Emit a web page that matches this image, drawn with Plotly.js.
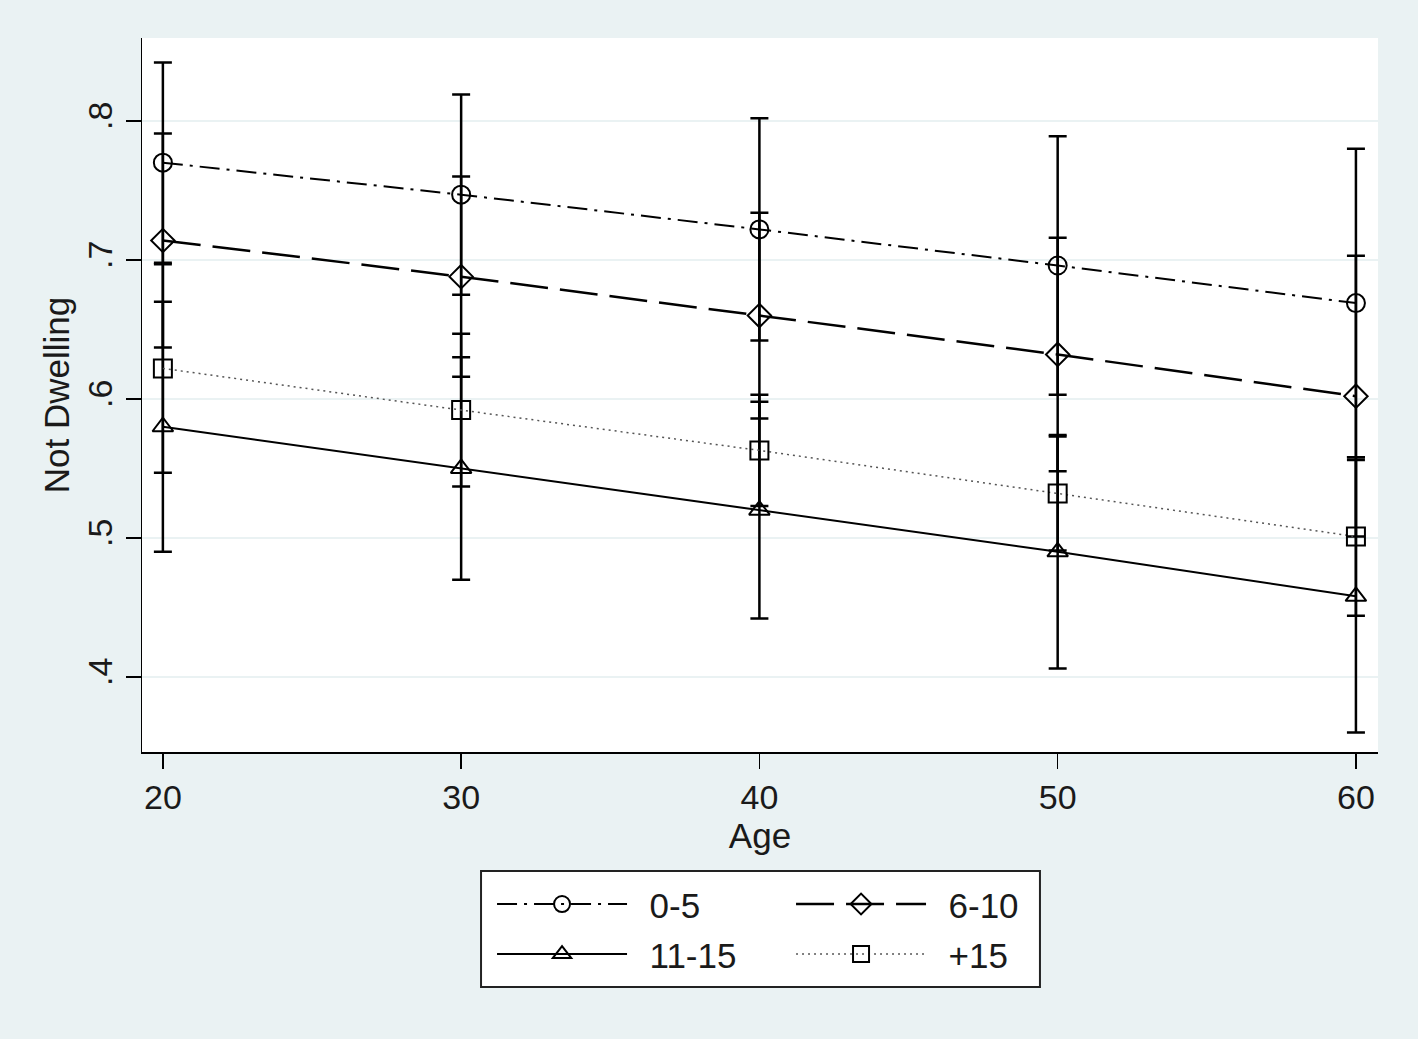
<!DOCTYPE html>
<html>
<head>
<meta charset="utf-8">
<script src="https://cdn.plot.ly/plotly-3.0.1.min.js"></script>
<style>
  html, body { margin: 0; padding: 0; background: #eaf2f3; }
  #chart { width: 1418px; height: 1039px; }
</style>
</head>
<body>
<div id="chart"></div>
<script>
// ages on the x axis
const ages = [20, 30, 40, 50, 60];

// predicted "Not Dwelling" by group
const mean_0_5   = [0.770, 0.747, 0.722, 0.696, 0.669];
const mean_6_10  = [0.714, 0.688, 0.660, 0.632, 0.602];
const mean_11_15 = [0.580, 0.550, 0.520, 0.490, 0.458];
const mean_15p   = [0.622, 0.592, 0.563, 0.532, 0.501];

// half-width of the confidence intervals
const ci_0_5   = [0.072, 0.072, 0.080, 0.093, 0.111];
const ci_6_10  = [0.077, 0.072, 0.074, 0.084, 0.101];
const ci_11_15 = [0.090, 0.080, 0.078, 0.084, 0.098];
const ci_15p   = [0.075, 0.055, 0.040, 0.041, 0.057];

const groupNames = ['0-5', '6-10', '11-15', '+15'];

const yTicks = [0.4, 0.5, 0.6, 0.7, 0.8];
const yTickText = ['.4', '.5', '.6', '.7', '.8'];
const xTicks = [20, 30, 40, 50, 60];

const FONT = 'Liberation Sans, Arial, sans-serif';

// 공통 trace 생성
function makeTrace(name, y, ci, symbol, dash, width, color, legendId) {
    return {
        x: ages,
        y: y,
        name: '\u2002' + name, // 기호와 글자 사이 간격
        legend: legendId,
        type: 'scatter',
        mode: 'lines+markers',
        line: { color: color, width: width, dash: dash },
        marker: {
            symbol: symbol,
            size: 18,
            color: 'black',
            line: { color: 'black', width: 2 }
        },
        error_y: {
            type: 'data',
            array: ci,
            symmetric: true,
            color: 'black',
            thickness: 2.5,
            width: 9
        }
    };
}

const trace1 = makeTrace(groupNames[0], mean_0_5, ci_0_5, 'circle-open', '20px,7px,3px,7px', 2, 'black', 'legend');
const trace2 = makeTrace(groupNames[1], mean_6_10, ci_6_10, 'diamond-open', '38px,12px', 2.5, 'black', 'legend');
const trace3 = makeTrace(groupNames[2], mean_11_15, ci_11_15, 'triangle-up-open', 'solid', 2, 'black', 'legend2');
const trace4 = makeTrace(groupNames[3], mean_15p, ci_15p, 'square-open', '2px,4px', 1.5, '#555555', 'legend2');

const data = [trace1, trace2, trace3, trace4];

// 범례 한 줄씩 (2열 배치)
function legendRow(y) {
    return {
        orientation: 'h',
        x: 0.2832,
        xanchor: 'left',
        y: y,
        yanchor: 'top',
        bgcolor: 'rgba(0,0,0,0)',
        borderwidth: 0,
        itemwidth: 130,
        entrywidth: 154,
        font: { family: FONT, size: 35 },
        traceorder: 'normal'
    };
}

const layout = {
    width: 1418,
    height: 1039,
    paper_bgcolor: '#eaf2f3',
    plot_bgcolor: '#ffffff',
    margin: { l: 142, r: 40, t: 38, b: 287 },
    font: { family: FONT, size: 34, color: '#1a1a1a' },
    showlegend: true,
    xaxis: {
        range: [19.3, 60.74],
        tickvals: xTicks,
        ticks: 'outside',
        ticklen: 15,
        tickwidth: 1.5,
        tickcolor: 'black',
        showline: true,
        linecolor: 'black',
        linewidth: 1.5,
        showgrid: false,
        zeroline: false,
        tickfont: { family: FONT, size: 34 },
        title: { text: 'Age', font: { family: FONT, size: 35 }, standoff: 0 }
    },
    yaxis: {
        range: [0.346, 0.8597],
        tickvals: yTicks,
        ticktext: yTickText,
        tickangle: -90,
        ticks: 'outside',
        ticklen: 15,
        tickwidth: 1.5,
        tickcolor: 'black',
        showline: true,
        linecolor: 'black',
        linewidth: 1.5,
        showgrid: true,
        gridcolor: '#eaf2f3',
        gridwidth: 2,
        zeroline: false,
        tickfont: { family: FONT, size: 34 },
        title: { text: 'Not Dwelling', font: { family: FONT, size: 35 }, standoff: 0 }
    },
    legend: legendRow(-0.172),
    legend2: legendRow(-0.242),
    // 범례 테두리 박스
    shapes: [{
        type: 'rect',
        xref: 'paper', yref: 'paper',
        x0: 0.2743, x1: 0.7265,
        y0: -0.1667, y1: -0.3291,
        fillcolor: '#ffffff',
        line: { color: '#222222', width: 2 },
        layer: 'below'
    }]
};

Plotly.newPlot('chart', data, layout, { displayModeBar: false, staticPlot: true });
</script>
</body>
</html>
